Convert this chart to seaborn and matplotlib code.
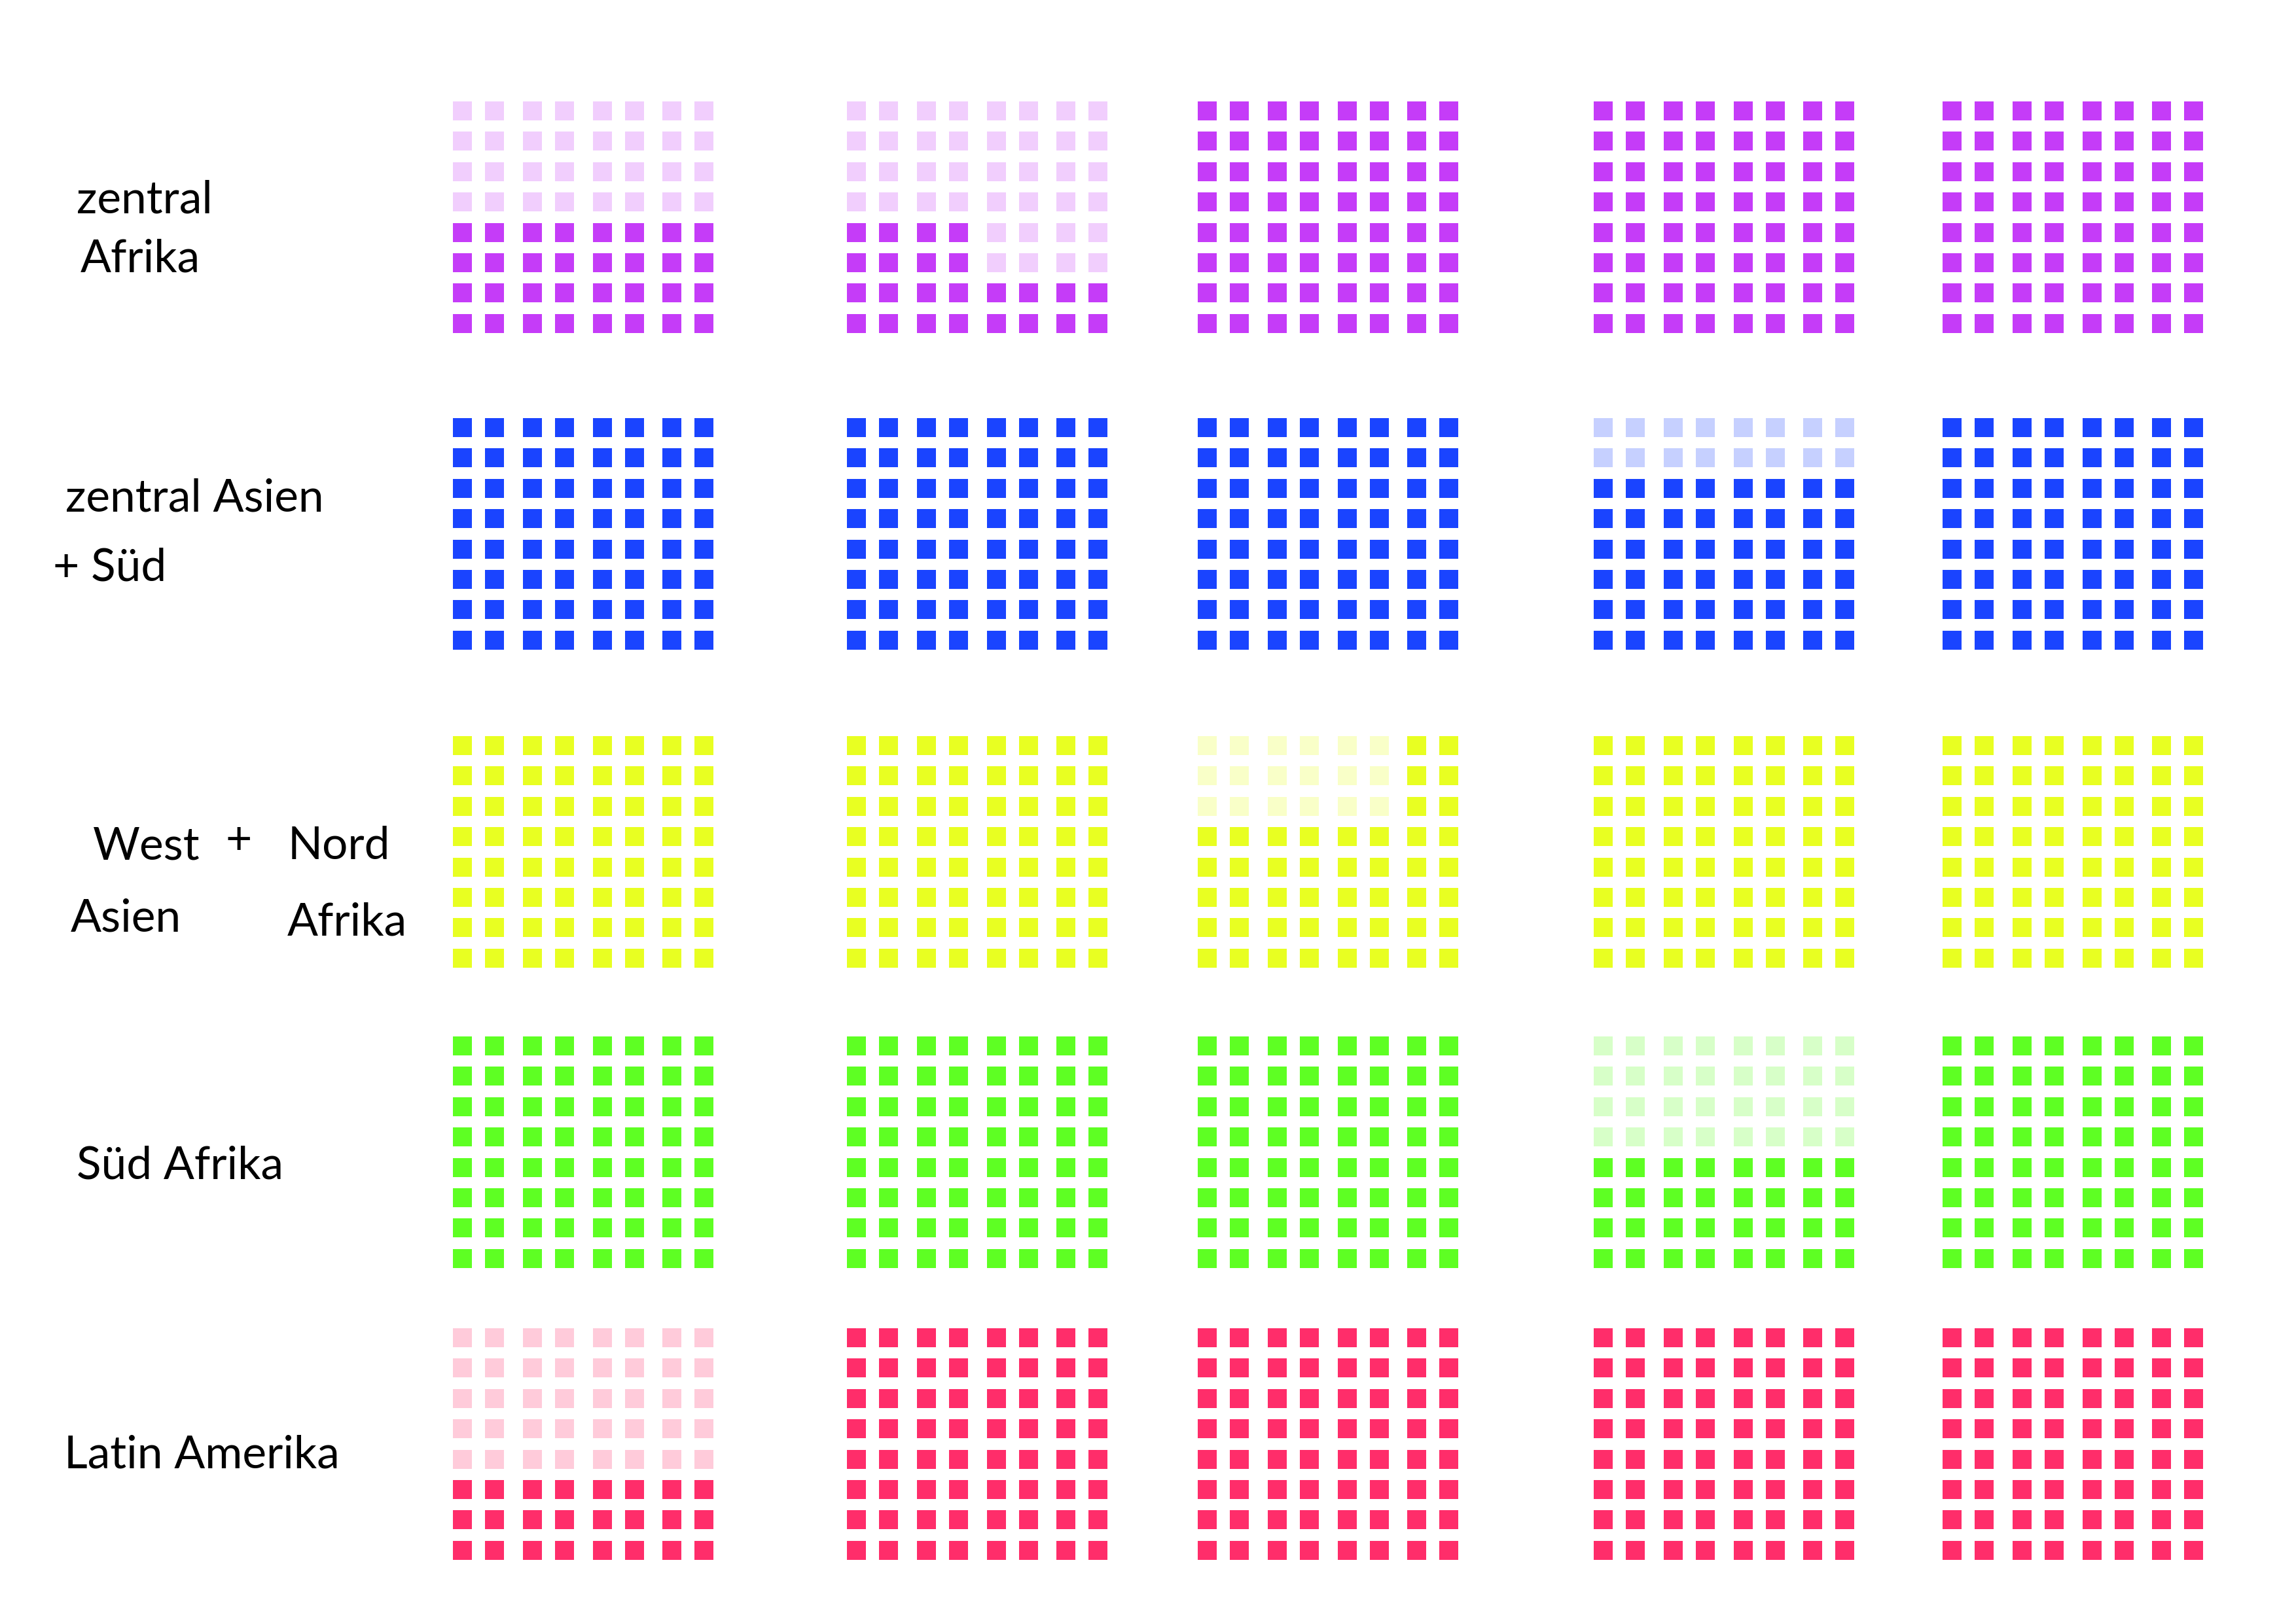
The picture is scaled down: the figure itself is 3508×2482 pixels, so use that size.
import matplotlib
matplotlib.use("Agg")
import matplotlib.pyplot as plt
import matplotlib.colors as mcolors
import numpy as np
import pandas as pd
import seaborn as sns

# 5 regions x 5 waffles, each waffle 8 x 8 squares
regions = ["zentral Afrika", "zentral Asien + Süd", "West Asien + Nord Afrika",
           "Süd Afrika", "Latin Amerika"]
region_colors = ["#C53CF8", "#1A44FF", "#E8FF22", "#5EFF23", "#FF2D6A"]

# faded cells per waffle as blocks (row_start, row_end, col_start, col_end)
faded_zentral_afrika = [[(0, 4, 0, 8)], [(0, 4, 0, 8), (4, 6, 4, 8)], [], [], []]
faded_zentral_asien = [[], [], [], [(0, 2, 0, 8)], []]
faded_west_nord = [[], [], [(0, 3, 0, 6)], [], []]
faded_sued_afrika = [[], [], [], [(0, 4, 0, 8)], []]
faded_latein = [[(0, 5, 0, 8)], [], [], [], []]
faded_blocks = [faded_zentral_afrika, faded_zentral_asien, faded_west_nord,
                faded_sued_afrika, faded_latein]

N_ROWS, N_COLS = 8, 8

# layout in pixels (figure is 3508 x 2482)
W, H = 3508, 2482
col_left = [692, 1294, 1830, 2435, 2968]
row_top = [155, 639, 1125, 1584, 2030]
PAIR_STEP = 2.18   # columns come in pairs
ROW_STEP = 0.947
UNIT_PX = 49.0
SQ_PX = 29.0
half = SQ_PX / 2 / UNIT_PX


def waffle_frame(blocks):
    rows = []
    for r in range(N_ROWS):
        for c in range(N_COLS):
            faded = any(r0 <= r < r1 and c0 <= c < c1 for r0, r1, c0, c1 in blocks)
            rows.append({"x": (c // 2) * PAIR_STEP + (c % 2),
                         "y": r * ROW_STEP,
                         "state": "blass" if faded else "voll"})
    return pd.DataFrame(rows)


def pale(color, alpha=0.25):
    rgb = np.array(mcolors.to_rgb(color))
    return tuple(1 - alpha * (1 - rgb))


sns.set_style("white")
plt.rcParams["font.family"] = ["Lato", "DejaVu Sans"]

fig = plt.figure(figsize=(W / 100, H / 100), dpi=100)

x_max = 3 * PAIR_STEP + 1 + half
y_max = (N_ROWS - 1) * ROW_STEP + half
ax_w = (x_max + half) * UNIT_PX
ax_h = (y_max + half) * UNIT_PX
marker_size = (SQ_PX * 72 / 100) ** 2

for i, region in enumerate(regions):
    for j in range(5):
        ax = fig.add_axes([col_left[j] / W, 1 - (row_top[i] + ax_h) / H,
                           ax_w / W, ax_h / H])
        df = waffle_frame(faded_blocks[i][j])
        sns.scatterplot(data=df, x="x", y="y", hue="state",
                        palette={"voll": region_colors[i], "blass": pale(region_colors[i])},
                        marker="s", s=marker_size, linewidth=0, legend=False, ax=ax)
        ax.set_xlim(-half, x_max)
        ax.set_ylim(y_max, -half)
        ax.axis("off")

# row labels
fs = 50
labels = [
    ("zentral", 117, 326), ("Afrika", 123, 415),
    ("zentral Asien", 100, 782), ("+ Süd", 81, 888),
    ("West", 142, 1313), ("+", 345, 1305), ("Nord", 440, 1313),
    ("Asien", 108, 1424), ("Afrika", 439, 1430),
    ("Süd Afrika", 117, 1801),
    ("Latin Amerika", 98, 2244),
]
for text, x, y in labels:
    fig.text(x / W, 1 - y / H, text, fontsize=fs, color="black",
             ha="left", va="baseline")

fig.savefig("out.png", dpi=100, facecolor="white")
